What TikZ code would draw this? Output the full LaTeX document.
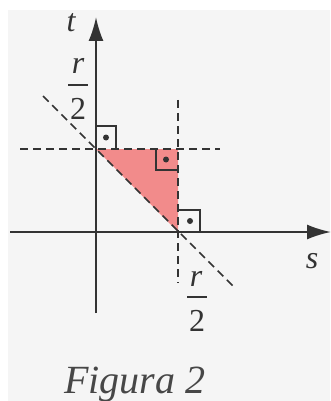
\documentclass[tikz,border=0pt]{standalone}
\usepackage{fontspec}
\setmainfont{Liberation Serif}
\usetikzlibrary{arrows.meta}
\definecolor{bg}{HTML}{F5F5F5}
\definecolor{ink}{HTML}{333333}
\definecolor{tri}{HTML}{F28B8B}
\begin{document}
\begin{tikzpicture}[x=1pt,y=-1pt,
  axis/.style={draw=ink,line width=2pt,-{Latex[length=24pt,width=15pt]}},
  dline/.style={draw=ink,line width=1.6pt,dash pattern=on 8pt off 5pt},
  rmark/.style={draw=ink,line width=1.6pt},
  lab/.style={text=ink,inner sep=0pt,font=\fontsize{32}{36}\selectfont\itshape},
  num/.style={text=ink,inner sep=0pt,font=\fontsize{32}{36}\selectfont},
  bar/.style={draw=ink,line width=1.4pt},
  dotm/.style={fill=ink,circle,inner sep=0pt,minimum size=6pt}]
\useasboundingbox (0,0) rectangle (330,401);
\fill[white] (0,0) rectangle (330,401);
\fill[bg] (8,10) rectangle (330,401);
\coordinate (O) at (96,232);
\coordinate (A) at (96,149);
\coordinate (B) at (178,149);
\coordinate (C) at (178,232);
\fill[tri] (A) -- (B) -- (C) -- cycle;
% dashed lines
\coordinate (h1) at (20,149); \coordinate (h2) at (220,149);
\coordinate (v1) at (178,100); \coordinate (v2) at (178,283);
\coordinate (d1) at (43,96); \coordinate (d2) at (234,287);
\draw[dline] (h1) -- (h2);
\draw[dline] (v1) -- (v2);
\draw[dline] (d1) -- (d2);
% axes
\coordinate (xs) at (10,232); \coordinate (xe) at (331,232);
\coordinate (ys) at (96,313); \coordinate (ye) at (96,17);
\draw[axis] (xs) -- (xe);
\draw[axis] (ys) -- (ye);
% right angle marks
\draw[rmark] (96,126) -- (116,126) -- (116,149);
\node[dotm] (m1) at (106,137.5) {};
\draw[rmark] (178,170) -- (156,170) -- (156,149);
\node[dotm] (m2) at (166,159.5) {};
\draw[rmark] (178,210) -- (200,210) -- (200,232);
\node[dotm] (m3) at (190,221) {};
% labels
\node[lab,anchor=base] (t) at (71,32) {t};
\node[lab,anchor=base] (s) at (312,268) {s};
% top fraction r/2
\node[lab,anchor=base] (r1) at (78,74) {r};
\coordinate (b1a) at (68,85); \coordinate (b1b) at (88,85);
\draw[bar] (b1a) -- (b1b);
\node[num,anchor=base] (n1) at (78,120) {2};
% bottom fraction r/2
\node[lab,anchor=base] (r2) at (196,286) {r};
\coordinate (b2a) at (187,297); \coordinate (b2b) at (207,297);
\draw[bar] (b2a) -- (b2b);
\node[num,anchor=base] (n2) at (197,331) {2};
\node[text=ink!90,inner sep=0pt,font=\fontsize{40}{44}\selectfont\itshape,anchor=base west] (fig) at (64,393) {Figura 2};
\end{tikzpicture}
\end{document}
